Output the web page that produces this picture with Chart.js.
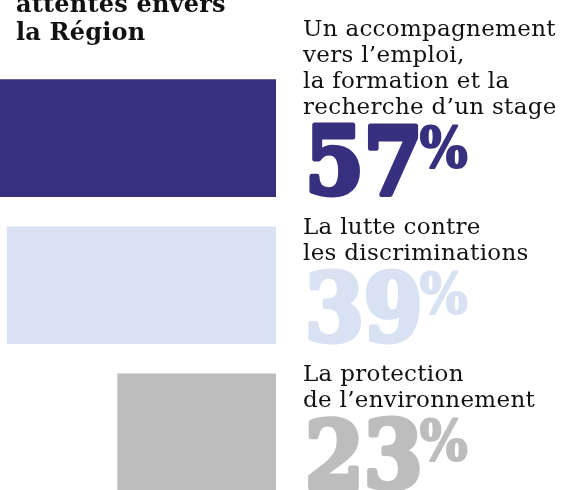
<!DOCTYPE html>
<html>
<head>
<meta charset="utf-8">
<script src="https://cdn.jsdelivr.net/npm/chart.js@4/dist/chart.umd.min.js"></script>
<style>
  html, body { margin: 0; padding: 0; background: #fff; overflow: hidden; }
  #wrap { width: 564px; height: 490px; overflow: hidden; }
</style>
</head>
<body>
<div id="wrap"><canvas id="myChart" width="564" height="506"></canvas></div>
<script>
const titleLines = ['attentes envers', 'la Région'];
const categories = [
    ['Un accompagnement', 'vers l’emploi,', 'la formation et la', 'recherche d’un stage'],
    ['La lutte contre', 'les discriminations'],
    ['La protection', 'de l’environnement']
];
const values = [57, 39, 23];
const barColors = ['#36307f', '#d8e2f3', '#bdbdbd'];

const serif = '"DejaVu Serif", serif';
const serifCond = '"DejaVu Serif Condensed", "DejaVu Serif", serif';

// draws the heading, the labels and the big percentages next to each bar
const textPlugin = {
    id: 'textPlugin',
    afterDatasetsDraw(chart) {
        const ctx = chart.ctx;
        ctx.save();
        ctx.fillStyle = '#111';
        ctx.textAlign = 'left';
        ctx.textBaseline = 'alphabetic';
        ctx.lineJoin = 'round';

        ctx.font = 'bold 24px ' + serif;
        ctx.letterSpacing = '0.2px';
        titleLines.forEach((t, i) => ctx.fillText(t, 16, 12 + i * 28));

        const meta = chart.getDatasetMeta(0);
        const x = 303;
        meta.data.forEach((bar, i) => {
            const p = bar.getProps(['y', 'height'], true);
            const bottom = p.y + p.height / 2;

            // big number
            const numBase = bottom - 3;
            ctx.fillStyle = barColors[i];
            ctx.strokeStyle = barColors[i];
            ctx.lineWidth = 5;
            ctx.letterSpacing = '0px';
            ctx.font = 'bold 94px ' + serifCond;
            const num = String(values[i]);
            const m = ctx.measureText(num);
            ctx.fillText(num, x + 2, numBase);
            ctx.strokeText(num, x + 2, numBase);
            const numTop = numBase - m.actualBoundingBoxAscent;

            ctx.font = 'bold 56px ' + serifCond;
            ctx.lineWidth = 2;
            const pm = ctx.measureText('%');
            const px = x + m.width - 1;
            ctx.fillText('%', px, numTop + pm.actualBoundingBoxAscent);
            ctx.strokeText('%', px, numTop + pm.actualBoundingBoxAscent);

            // label lines above the number
            ctx.fillStyle = '#111';
            ctx.font = '23px ' + serif;
            ctx.letterSpacing = '0.3px';
            const lines = categories[i];
            const lastBase = numTop - 11;
            lines.forEach((t, j) => {
                ctx.fillText(t, x, lastBase - (lines.length - 1 - j) * 26);
            });
        });
        ctx.restore();
    }
};

const config = {
    type: 'bar',
    data: {
        labels: categories,
        datasets: [{
            data: values,
            backgroundColor: barColors,
            borderWidth: 0,
            categoryPercentage: 1,
            barPercentage: 0.8
        }]
    },
    options: {
        indexAxis: 'y',
        responsive: false,
        animation: false,
        devicePixelRatio: 1,
        layout: {
            padding: { left: 0, right: 288, top: 64.5, bottom: 0 }
        },
        plugins: {
            legend: { display: false },
            tooltip: { enabled: false },
            title: { display: false }
        },
        scales: {
            x: {
                display: false,
                min: 0,
                max: 40,
                reverse: true
            },
            y: {
                display: false,
                offset: true
            }
        }
    },
    plugins: [textPlugin]
};

myChart = new Chart(document.getElementById('myChart'), config);
</script>
</body>
</html>
